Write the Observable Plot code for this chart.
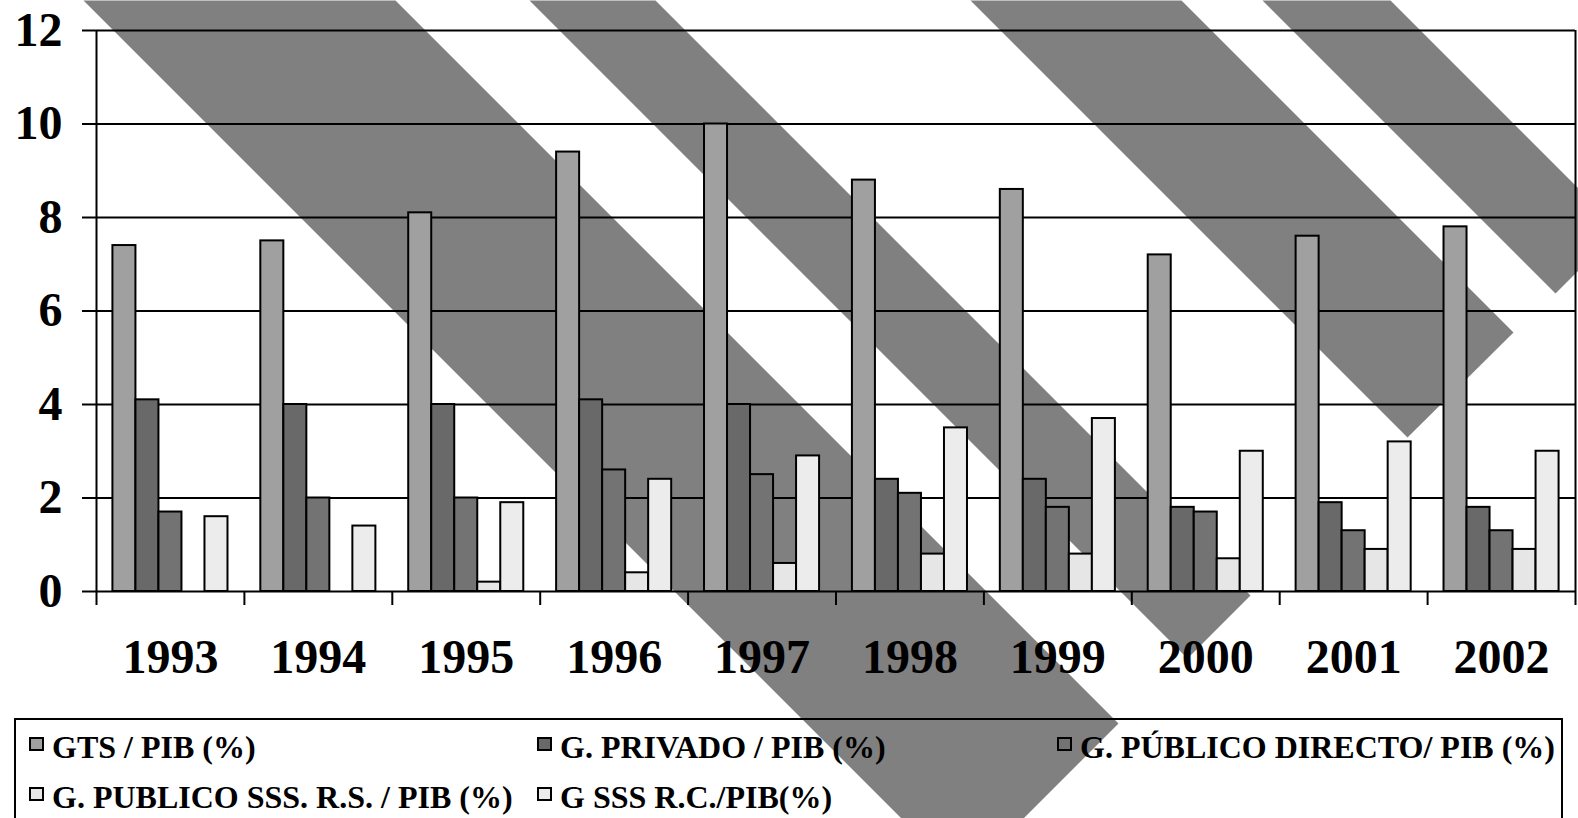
<!DOCTYPE html>
<html><head><meta charset="utf-8">
<script src="https://cdn.jsdelivr.net/npm/d3@7"></script>
<script src="https://cdn.jsdelivr.net/npm/@observablehq/plot@0.6"></script>
<style>
html,body{margin:0;padding:0;background:#fff;}
#wrap{position:relative;width:1578px;height:818px;overflow:hidden;font-family:"Liberation Serif","Times New Roman",serif;font-weight:bold;color:#000;}
#bg,#chart{position:absolute;left:0;top:0;}
#legend{position:absolute;left:14px;top:718px;width:1545px;height:140px;border:2px solid #000;}
.item{position:absolute;height:32px;display:flex;align-items:center;font-size:32px;white-space:nowrap;line-height:1;}
.sw{width:15px;height:14px;border:2px solid #000;margin-right:8px;box-sizing:border-box;position:relative;top:-3px;}
</style></head><body>
<div id="wrap"><div id="bg"></div><div id="chart"></div><div id="legend"></div></div>
<script>
// ---- data ----
const years = ["1993","1994","1995","1996","1997","1998","1999","2000","2001","2002"];
const series = ["GTS / PIB (%)","G. PRIVADO / PIB (%)","G. PÚBLICO DIRECTO/ PIB (%)","G. PUBLICO SSS. R.S. / PIB (%)","G SSS R.C./PIB(%)"];
const gts            = [7.4, 7.5, 8.1, 9.4, 10.0, 8.8, 8.6, 7.2, 7.6, 7.8];
const privado        = [4.1, 4.0, 4.0, 4.1, 4.0, 2.4, 2.4, 1.8, 1.9, 1.8];
const publicoDirecto = [1.7, 2.0, 2.0, 2.6, 2.5, 2.1, 1.8, 1.7, 1.3, 1.3];
const publicoRS      = [null, null, 0.2, 0.4, 0.6, 0.8, 0.8, 0.7, 0.9, 0.9];
const sssRC          = [1.6, 1.4, 1.9, 2.4, 2.9, 3.5, 3.7, 3.0, 3.2, 3.0];
const yTicks = [0, 2, 4, 6, 8, 10, 12];

// ---- styles ----
const colors = ["#a0a0a0", "#696969", "#737373", "#e6e6e6", "#ececec"];
const stripeColor = "#808080";
// decorative diagonal background stripes (page pixel corners)
const stripes = [
  {id: "A", corners: [[83,0],[395,0],[1118,723],[962,879]]},
  {id: "B", corners: [[529,0],[655,0],[1250,595],[1187,658]]},
  {id: "C", corners: [[970,0],[1181,0],[1513,332],[1407,437]]},
  {id: "D", corners: [[1262,0],[1390,0],[1619,229],[1555,293]]}
];

const allSeries = [gts, privado, publicoDirecto, publicoRS, sssRC];
const rows = [];
years.forEach((yr, i) => allSeries.forEach((vals, s) => {
  if (vals[i] != null) rows.push({year: yr, i, s, series: series[s], value: vals[i]});
}));

// background stripes
const stripePts = stripes.flatMap(st => st.corners.map(([x, y]) => ({id: st.id, x, y})));
const bg = Plot.plot({
  width: 1578, height: 818, margin: 0,
  style: {background: "transparent"},
  x: {domain: [0, 1578], range: [0, 1578], axis: null},
  y: {domain: [0, 818], range: [0, 818], axis: null},
  marks: [Plot.line(stripePts, {x: "x", y: "y", z: "id", fill: stripeColor, stroke: "none"})]
});
document.getElementById("bg").append(bg);

// main chart
const pad = 0.111, w = 0.1556;
const chart = Plot.plot({
  width: 1578, height: 700,
  marginLeft: 96, marginRight: 3, marginTop: 30, marginBottom: 109,
  style: {background: "transparent", fontFamily: "'Liberation Serif','Times New Roman',serif", fontWeight: "bold", fontSize: "48px", color: "#000", overflow: "visible"},
  x: {domain: [0, 10]},
  y: {domain: [0, 12]},
  color: {domain: series, range: colors},
  marks: [
    Plot.ruleY(yTicks, {stroke: "#000", strokeWidth: 2}),
    Plot.rect(rows, {
      x1: d => d.i + pad + d.s * w,
      x2: d => d.i + pad + (d.s + 1) * w,
      y1: 0, y2: "value",
      fill: "series", stroke: "#000", strokeWidth: 2
    }),
    Plot.ruleX([0, 10], {stroke: "#000", strokeWidth: 2}),
    Plot.axisY(yTicks, {anchor: "left", tickSize: 14, tickPadding: 20, strokeWidth: 2, label: null, tickFormat: d => String(d)}),
    Plot.axisX(d3.range(11), {anchor: "bottom", tickSize: 14, strokeWidth: 2, label: null, tickFormat: () => ""}),
    Plot.text(years, {x: (d, i) => i + 0.5, y: () => 0, dy: 66, text: d => d, fontSize: 48})
  ]
});
document.getElementById("chart").append(chart);

// legend
const legend = document.getElementById("legend");
const legendPos = [[13, 11], [521, 11], [1041, 11], [13, 61], [521, 61]];
series.forEach((name, k) => {
  const it = document.createElement("div");
  it.className = "item";
  it.style.left = legendPos[k][0] + "px";
  it.style.top = legendPos[k][1] + "px";
  const sw = document.createElement("span");
  sw.className = "sw";
  sw.style.background = colors[k];
  const tx = document.createElement("span");
  tx.textContent = name;
  it.append(sw, tx);
  legend.append(it);
});
</script>
</body></html>
